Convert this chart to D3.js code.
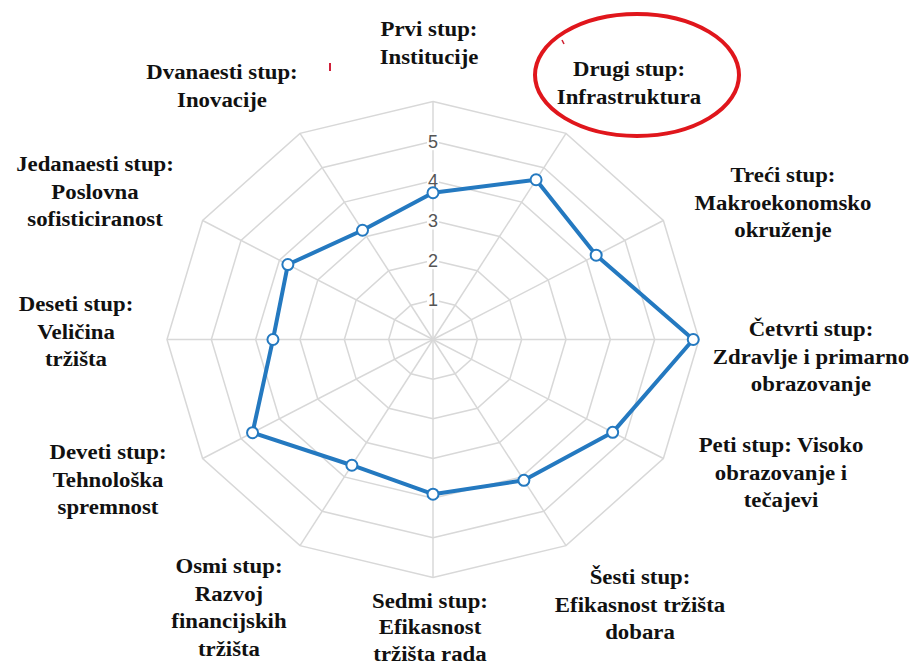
<!DOCTYPE html>
<html>
<head>
<meta charset="utf-8">
<script src="https://cdn.jsdelivr.net/npm/d3@7"></script>
<style>
  body { margin: 0; background: #fff; }
  svg { display: block; }
</style>
</head>
<body>
<svg id="chart" width="912" height="666"></svg>
<script>
// pillars of competitiveness, clockwise from the top
const categories = [
  ['Prvi stup:', 'Institucije'],
  ['Drugi stup:', 'Infrastruktura'],
  ['Treći stup:', 'Makroekonomsko', 'okruženje'],
  ['Četvrti stup:', 'Zdravlje i primarno', 'obrazovanje'],
  ['Peti stup: Visoko', 'obrazovanje i', 'tečajevi'],
  ['Šesti stup:', 'Efikasnost tržišta', 'dobara'],
  ['Sedmi stup:', 'Efikasnost', 'tržišta rada'],
  ['Osmi stup:', 'Razvoj', 'financijskih', 'tržišta'],
  ['Deveti stup:', 'Tehnološka', 'spremnost'],
  ['Deseti stup:', 'Veličina', 'tržišta'],
  ['Jedanaesti stup:', 'Poslovna', 'sofisticiranost'],
  ['Dvanaesti stup:', 'Inovacije']
]
const values = [3.7, 4.65, 4.25, 5.87, 4.68, 4.1, 3.9, 3.66, 4.7, 3.61, 3.78, 3.18]
const ticks = [1, 2, 3, 4, 5]
const rings = [1, 2, 3, 4, 5, 6]

// label anchor points (first line centre)
const labelPos = [
  [429, 29], [629, 69], [783, 175], [811, 329], [781, 445], [640, 577],
  [430, 601], [229, 566], [108, 452], [76, 304], [95, 164], [222, 72]
]

const svg = d3.select('#chart')
const cx = 433, cy = 339.5
const RX = 266, RY = 238  // the picture is a bit wider than tall

let r = d3.scaleLinear().domain([0, 6]).range([0, 1])
let angle = d3.scaleLinear().domain([0, categories.length]).range([0, 2 * Math.PI])

function pt(i, v) {
  let a = angle(i)
  return [cx + Math.sin(a) * r(v) * RX, cy - Math.cos(a) * r(v) * RY]
}

let grid = svg.append('g').attr('class', 'grid')

grid.selectAll('polygon')
  .data(rings)
  .enter().append('polygon')
  .attr('points', d => categories.map((c, i) => pt(i, d).join(',')).join(' '))
  .attr('fill', 'none')
  .attr('stroke', '#d8d8d8')
  .attr('stroke-width', 1.5)

grid.selectAll('line')
  .data(categories)
  .enter().append('line')
  .attr('x1', cx).attr('y1', cy)
  .attr('x2', (d, i) => pt(i, 6)[0])
  .attr('y2', (d, i) => pt(i, 6)[1])
  .attr('stroke', '#d8d8d8')
  .attr('stroke-width', 1.5)

// tick labels on the top spoke
let tk = svg.append('g').attr('class', 'ticks')
tk.selectAll('rect')
  .data(ticks)
  .enter().append('rect')
  .attr('x', cx - 6)
  .attr('y', d => pt(0, d)[1] - 9)
  .attr('width', 12)
  .attr('height', 18)
  .attr('fill', '#fff')
tk.selectAll('text')
  .data(ticks)
  .enter().append('text')
  .attr('x', cx)
  .attr('y', d => pt(0, d)[1])
  .attr('dy', '0.36em')
  .attr('text-anchor', 'middle')
  .attr('font-family', 'Liberation Sans, Arial, sans-serif')
  .attr('font-size', 18)
  .attr('fill', '#555')
  .text(d => d)

// data line
let line = d3.line().curve(d3.curveLinearClosed)
svg.append('path')
  .datum(values.map((v, i) => pt(i, v)))
  .attr('d', line)
  .attr('fill', 'none')
  .attr('stroke', '#2479c0')
  .attr('stroke-width', 4)
  .attr('stroke-linejoin', 'round')

svg.append('g')
  .selectAll('circle')
  .data(values)
  .enter().append('circle')
  .attr('cx', (v, i) => pt(i, v)[0])
  .attr('cy', (v, i) => pt(i, v)[1])
  .attr('r', 5.5)
  .attr('fill', '#fff')
  .attr('stroke', '#2479c0')
  .attr('stroke-width', 2)

// category labels, bold serif, slightly stretched like the picture
let labels = svg.append('g').attr('class', 'labels')
categories.forEach((lines, i) => {
  let g = labels.append('g')
    .attr('transform', `translate(${labelPos[i][0]},${labelPos[i][1]}) scale(1.14,1)`)
  let bgW = d3.max(lines, s => s.length) * 9.5
  let lh = i === 6 ? 26.5 : 27.7
  g.append('rect')
    .attr('x', -bgW / 2 - 4).attr('y', -14)
    .attr('width', bgW + 8).attr('height', lines.length * 28)
    .attr('fill', '#fff')
  g.selectAll('text')
    .data(lines)
    .enter().append('text')
    .attr('x', 0)
    .attr('y', (d, k) => k * lh)
    .attr('dy', '0.35em')
    .attr('text-anchor', 'middle')
    .attr('font-family', 'Liberation Serif, Times New Roman, serif')
    .attr('font-weight', 'bold')
    .attr('font-size', 20)
    .attr('fill', '#111')
    .text(d => d)
})

// red highlight round the second pillar, and the little stray marks
svg.append('ellipse')
  .attr('cx', 637).attr('cy', 75)
  .attr('rx', 102).attr('ry', 61)
  .attr('fill', 'none')
  .attr('stroke', '#e0161c')
  .attr('stroke-width', 4)
svg.append('line')
  .attr('x1', 562).attr('y1', 40).attr('x2', 564).attr('y2', 44)
  .attr('stroke', '#d02030').attr('stroke-width', 1.5)
svg.append('line')
  .attr('x1', 330).attr('y1', 63).attr('x2', 330).attr('y2', 71)
  .attr('stroke', '#d0203a').attr('stroke-width', 2)
</script>
</body>
</html>
